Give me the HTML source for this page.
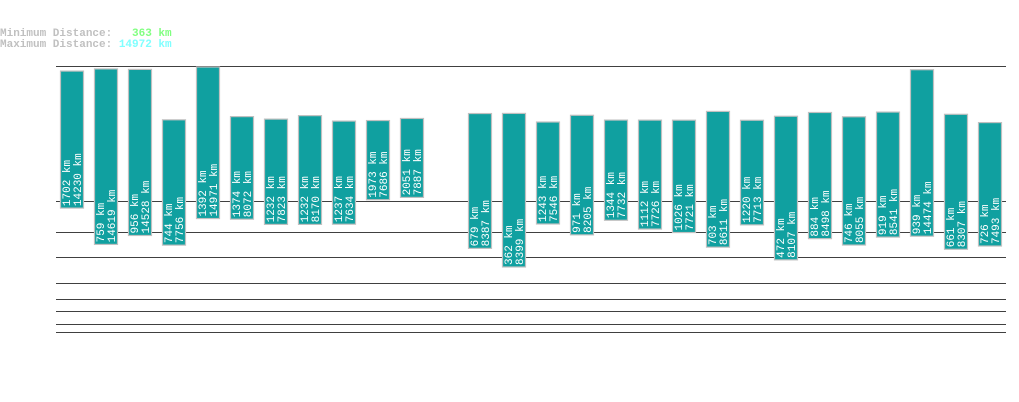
<!DOCTYPE html>
<html><head><meta charset="utf-8"><style>
body{margin:0;background:#fff;width:1019px;height:402px;overflow:hidden}
svg{display:block}
.t{font-family:"Liberation Mono",monospace;font-size:11px;font-weight:bold}
.l{font-family:"Liberation Mono",monospace;font-size:11px;fill:#fff}
</style></head><body>
<svg id="c" width="1019" height="402">
<text class="t" x="0" y="36" fill="#c0c0c0" xml:space="preserve">Minimum Distance:   <tspan fill="#80ff80">363 km</tspan></text>
<text class="t" x="0" y="47" fill="#c0c0c0" xml:space="preserve">Maximum Distance: <tspan fill="#80ffff">14972 km</tspan></text>
<g id="lines"></g><g id="bars"></g>
</svg>
<script>
const minVals=[1702,759,956,744,1392,1374,1232,1232,1237,1973,2051,null,679,362,1243,971,1344,1112,1026,703,1220,472,884,746,919,939,661,726];
const maxVals=[14230,14619,14528,7756,14971,8072,7823,8170,7634,7686,7887,null,8387,8399,7546,8205,7732,7726,7721,8611,7713,8107,8498,8055,8541,14474,8307,7493];
const gridLines=[66,201,232,257,283,299,311,324,332];
const NS="http://www.w3.org/2000/svg";
const svg=document.getElementById('c');
function yTop(v){return 67+80.3*Math.log(14972/v);}
function yBot(v){return 267-2.65*(Math.sqrt(v)-Math.sqrt(362));}
function xSlot(i){return 60+i*34;}
const lg=document.getElementById('lines');
gridLines.forEach(function(y){
  const l=document.createElementNS(NS,'line');
  l.setAttribute('x1',56);l.setAttribute('x2',1006);l.setAttribute('y1',y+0.5);l.setAttribute('y2',y+0.5);
  l.setAttribute('stroke','#404040');l.setAttribute('stroke-width',1);
  
  
  lg.appendChild(l);
});
const bg=document.getElementById('bars');
minVals.forEach(function(mn,i){
  const mx=maxVals[i];
  if(mn==null||mx==null)return;
  const x=xSlot(i),t=yTop(mx),b=yBot(mn);
  const r=document.createElementNS(NS,'rect');
  r.setAttribute('x',x+0.5);r.setAttribute('y',t);r.setAttribute('width',23);r.setAttribute('height',b-t);
  r.setAttribute('fill','#10a0a0');r.setAttribute('stroke','#c0c0c0');r.setAttribute('stroke-width',1.2);
  
  
  bg.appendChild(r);
  [[mn,x+10],[mx,x+21]].forEach(function(p,k){
    const tx=document.createElementNS(NS,'text');
    tx.setAttribute('class','l');
    tx.setAttribute('transform','translate('+p[1]+','+(b-2)+') rotate(-90)');
    tx.textContent=p[0]+' km';
    
    
    bg.appendChild(tx);
  });
});
</script>
</body></html>
